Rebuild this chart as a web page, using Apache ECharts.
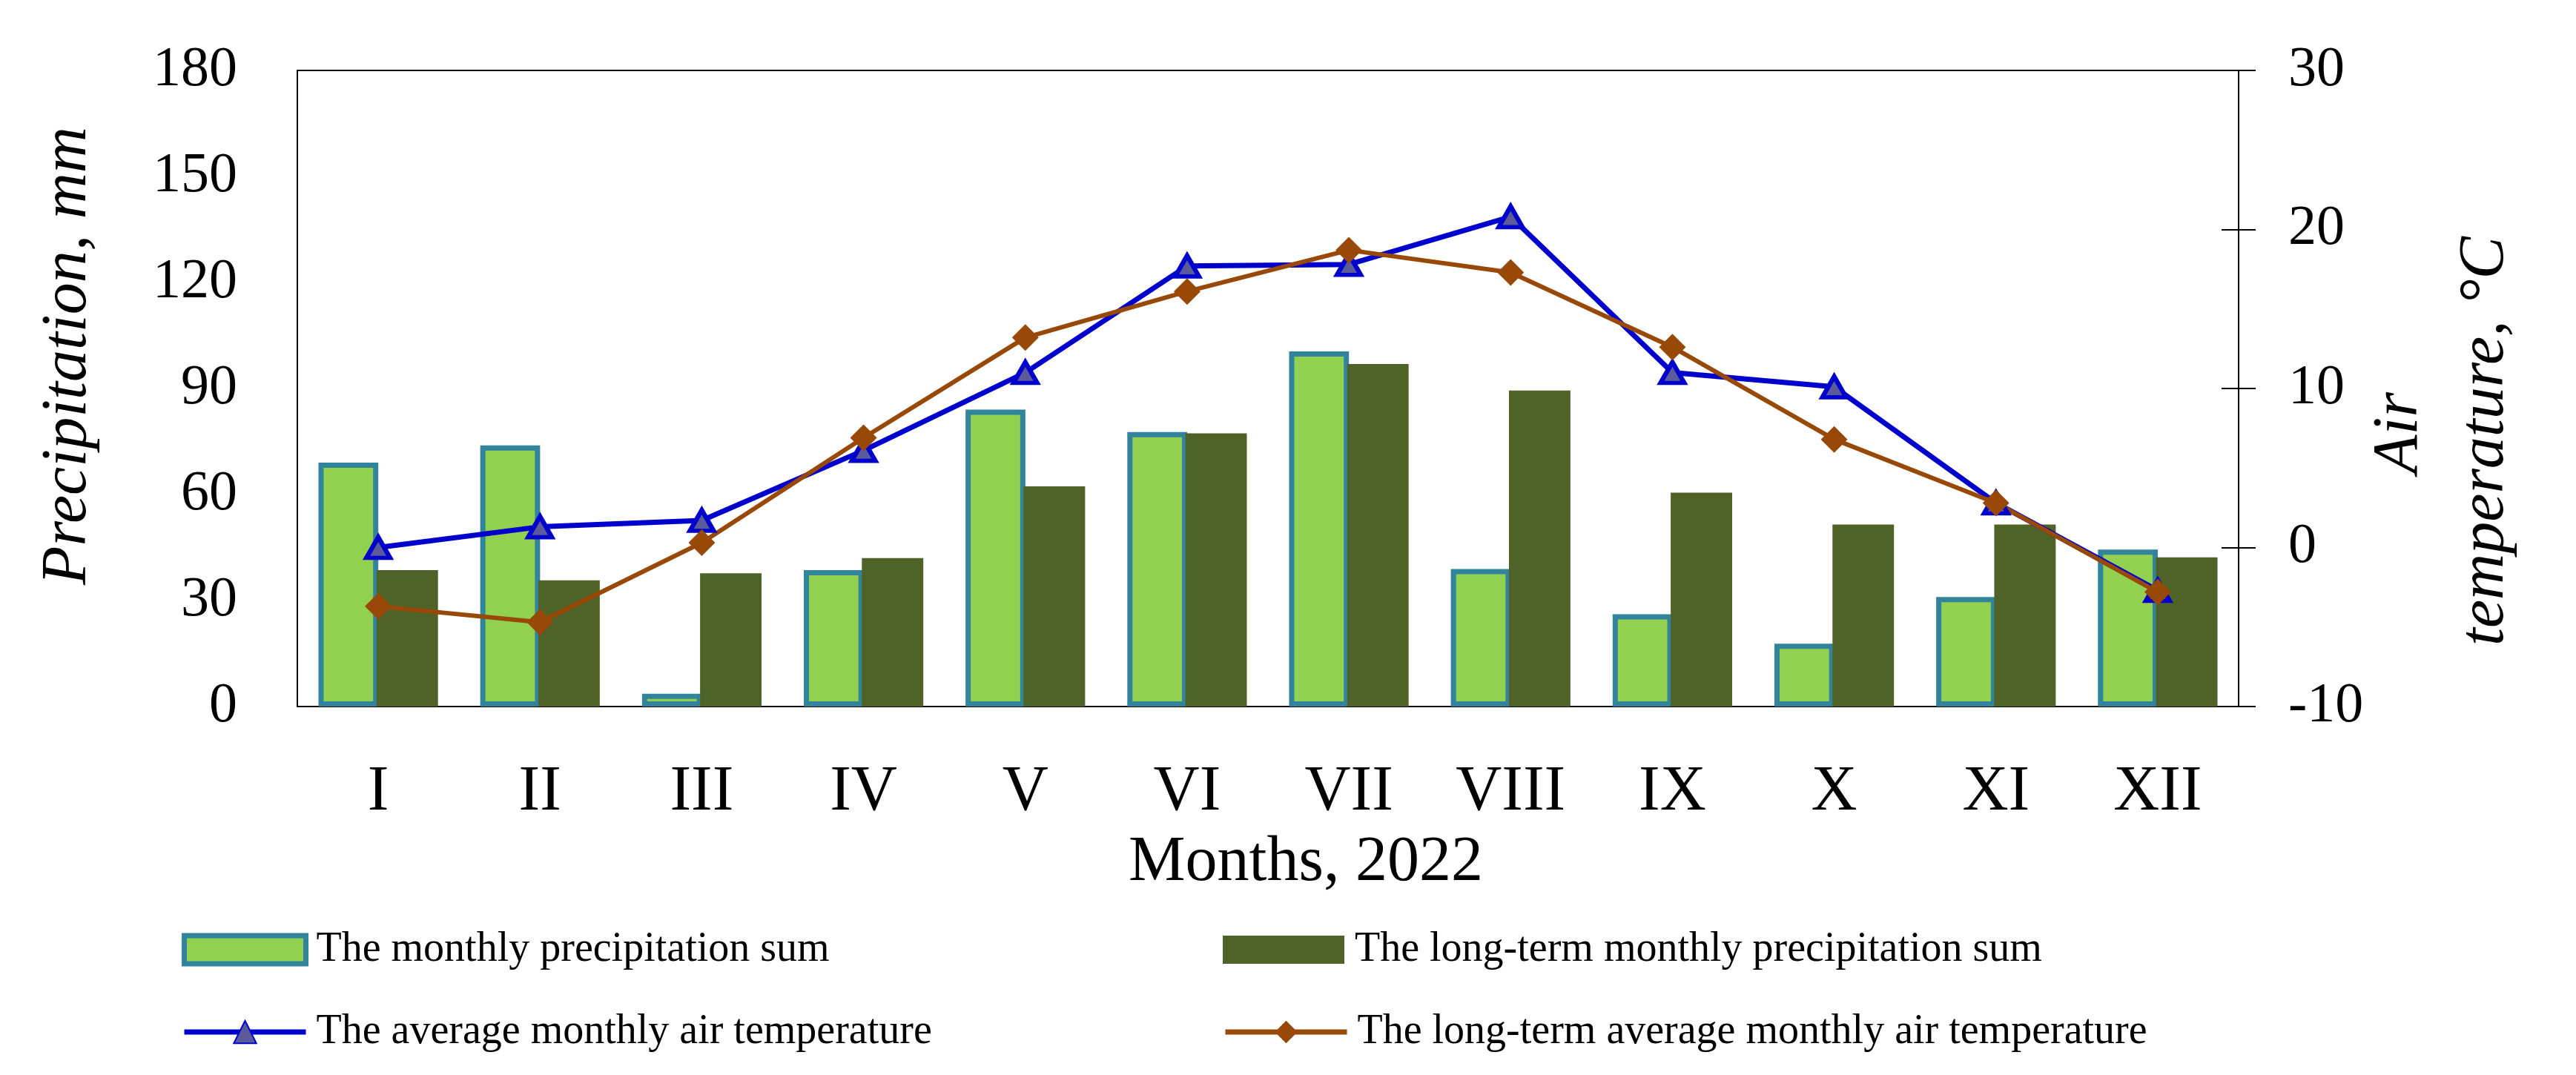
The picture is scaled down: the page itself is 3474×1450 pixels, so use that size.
<!DOCTYPE html>
<html>
<head>
<meta charset="utf-8">
<script src="https://cdn.jsdelivr.net/npm/echarts@6/dist/echarts.min.js"></script>
<style>
html,body{margin:0;padding:0;background:#fff;}
#chart{width:3474px;height:1450px;}
</style>
</head>
<body>
<div id="chart"></div>
<script>
const months = ['I','II','III','IV','V','VI','VII','VIII','IX','X','XI','XII'];
const precip2022 = [69.0, 73.9, 3.6, 38.6, 84.0, 77.7, 100.5, 38.9, 26.1, 17.8, 31.0, 44.4];
const precipLongTerm = [38.6, 35.7, 37.7, 42.0, 62.3, 77.3, 96.9, 89.4, 60.5, 51.5, 51.5, 42.2];
const temp2022 = [0.0, 1.3, 1.7, 6.1, 11.0, 17.7, 17.8, 20.8, 11.0, 10.1, 2.8, -2.7];
const tempLongTerm = [-3.7, -4.7, 0.3, 6.9, 13.2, 16.1, 18.7, 17.3, 12.6, 6.8, 2.8, -2.8];
const leftTicks = {min: 0, max: 180, interval: 30};
const rightTicks = {min: -10, max: 30, interval: 10};

const names = [
  'The monthly precipitation sum',
  'The long-term monthly precipitation sum',
  'The average monthly air temperature',
  'The long-term average monthly air temperature'
];
const FONT = 'Liberation Serif';

function legendItem(name, left, top, extra) {
  return Object.assign({data: [name], orient: 'horizontal', left: left, top: top, itemWidth: 164, itemHeight: 38,
    textStyle: {fontFamily: FONT, fontSize: 56, color: '#000', padding: [0,0,0,9]}}, extra || {});
}

const chart = echarts.init(document.getElementById('chart'));
chart.setOption({
  animation: false,
  backgroundColor: '#fff',
  grid: {left: 401, right: 455, top: 95, bottom: 497, show: true, borderColor: '#000', borderWidth: 2, backgroundColor: 'transparent'},
  legend: [
    legendItem(names[0], 240, 1248, {icon: 'rect', itemStyle: {borderWidth: 7, borderColor: '#31849B'}}),
    legendItem(names[2], 240, 1359, {lineStyle: {width: 7}}),
    legendItem(names[1], 1644, 1248, {icon: 'rect'}),
    legendItem(names[3], 1644, 1359, {lineStyle: {width: 7}})
  ],
  xAxis: {
    type: 'category', data: months,
    axisLine: {lineStyle: {color: '#000', width: 2}},
    axisTick: {show: false},
    axisLabel: {fontFamily: FONT, fontSize: 86, color: '#000', margin: 73}
  },
  yAxis: [
    {type: 'value', min: leftTicks.min, max: leftTicks.max, interval: leftTicks.interval, position: 'left',
     axisLine: {show: true, lineStyle: {color: '#000', width: 2}}, axisTick: {show: false}, splitLine: {show: false},
     axisLabel: {fontFamily: FONT, fontSize: 76, color: '#000', margin: 81}},
    {type: 'value', min: rightTicks.min, max: rightTicks.max, interval: rightTicks.interval, position: 'right',
     axisLine: {show: true, lineStyle: {color: '#000', width: 2}},
     axisTick: {show: true, length: 23, lineStyle: {color: '#000', width: 2}}, splitLine: {show: false},
     axisLabel: {fontFamily: FONT, fontSize: 76, color: '#000', margin: 67}},
    {type: 'value', min: rightTicks.min, max: rightTicks.max, interval: rightTicks.interval, position: 'right',
     axisLine: {show: false}, axisTick: {show: true, inside: true, length: 23, lineStyle: {color: '#000', width: 2}},
     splitLine: {show: false}, axisLabel: {show: false}}
  ],
  series: [
    {name: names[0], type: 'bar', yAxisIndex: 0, data: precip2022, barWidth: '37%', barGap: '-3%',
     itemStyle: {color: '#92D050', borderColor: '#31849B', borderWidth: 7}},
    {name: names[1], type: 'bar', yAxisIndex: 0, data: precipLongTerm, barWidth: '38%', barGap: '-3%',
     itemStyle: {color: '#4F6228'}},
    {name: names[2], type: 'line', yAxisIndex: 1, data: temp2022, symbol: 'triangle', symbolSize: [32, 28],
     lineStyle: {color: '#0000CC', width: 7},
     itemStyle: {color: '#5B5B9B', borderColor: '#0000CC', borderWidth: 6}},
    {name: names[3], type: 'line', yAxisIndex: 1, data: tempLongTerm, symbol: 'diamond', symbolSize: 36,
     lineStyle: {color: '#984807', width: 6},
     itemStyle: {color: '#984807', borderColor: '#984807', borderWidth: 0}}
  ],
  graphic: [
    {type: 'text', x: 92, y: 480, rotation: Math.PI/2,
     style: {text: 'Precipitation, mm', fontFamily: FONT, fontStyle: 'italic', fontSize: 86, fill: '#000', align: 'center', verticalAlign: 'middle'}},
    {type: 'text', x: 3236, y: 584, rotation: Math.PI/2,
     style: {text: 'Air', fontFamily: FONT, fontStyle: 'italic', fontSize: 86, fill: '#000', align: 'center', verticalAlign: 'middle'}},
    {type: 'text', x: 3352, y: 595, rotation: Math.PI/2,
     style: {text: 'temperature, °C', fontFamily: FONT, fontStyle: 'italic', fontSize: 86, fill: '#000', align: 'center', verticalAlign: 'middle'}},
    {type: 'text', x: 1761, y: 1164,
     style: {text: 'Months, 2022', fontFamily: FONT, fontSize: 86, fill: '#000', align: 'center', verticalAlign: 'middle'}}
  ]
});
</script>
</body>
</html>
